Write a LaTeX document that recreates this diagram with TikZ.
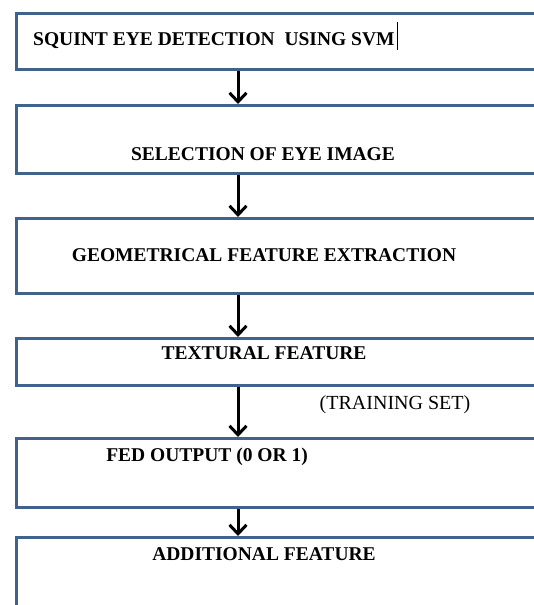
\documentclass[tikz,border=0pt]{standalone}
\usepackage{fontspec}
\setmainfont{Liberation Serif}
\newfontfamily\stageserif{Liberation Serif}
\usepackage{tikz}
\usetikzlibrary{arrows.meta,positioning}
\definecolor{boxBlue}{RGB}{65,98,140}
\newcommand{\stagefont}{\stageserif\fontsize{19.5}{22}\selectfont\bfseries}

\begin{document}
\begin{tikzpicture}[x=1pt,y=-1pt,
    stagebox/.style={draw=boxBlue, line width=3pt, minimum width=535pt, inner sep=0pt, anchor=north west},
    stagetext/.style={font=\stagefont, inner sep=0pt, anchor=base},
    flow/.style={-{Straight Barb[length=9pt,width=17pt]}, line width=3pt, black}]
    \useasboundingbox (0,0) rectangle (534,605);
    \clip (0,0) rectangle (534,605);

    % stage boxes, cut off at the right edge
    \node[stagebox, minimum height=56pt] (b1) at (15,12) {};
    \node[stagebox, minimum height=68pt] (b2) at (15,104) {};
    \node[stagebox, minimum height=75pt] (b3) at (15,217) {};
    \node[stagebox, minimum height=47pt] (b4) at (15,337) {};
    \node[stagebox, minimum height=69pt] (b5) at (15,437) {};
    \node[stagebox, minimum height=90pt] (b6) at (15,536) {};

    \node[stagetext, anchor=base west] (t1) at (33,45) {SQUINT EYE DETECTION \ USING SVM\hspace{2pt}\rule[-5pt]{1.3pt}{28pt}};
    \node[stagetext] (t2) at (263,160) {SELECTION OF EYE IMAGE};
    \node[stagetext] (t3) at (264,261) {GEOMETRICAL FEATURE EXTRACTION};
    \node[stagetext] (t4) at (264,359) {TEXTURAL FEATURE};
    \node[stagetext] (t5) at (207,461) {FED OUTPUT (0 OR 1)};
    \node[stagetext] (t6) at (264,560) {ADDITIONAL FEATURE};
    \node[font=\stageserif\fontsize{20}{22}\selectfont, inner sep=0pt, anchor=base] (tset) at (395,409) {(TRAINING SET)};

    % arrows
    \coordinate (ax) at (238,0);
    \draw[flow] (b1.south -| ax) -- (b2.north -| ax);
    \draw[flow] (b2.south -| ax) -- (b3.north -| ax);
    \draw[flow] (b3.south -| ax) -- (b4.north -| ax);
    \draw[flow] (b4.south -| ax) -- (b5.north -| ax);
    \draw[flow] (b5.south -| ax) -- (b6.north -| ax);
\end{tikzpicture}
\end{document}
